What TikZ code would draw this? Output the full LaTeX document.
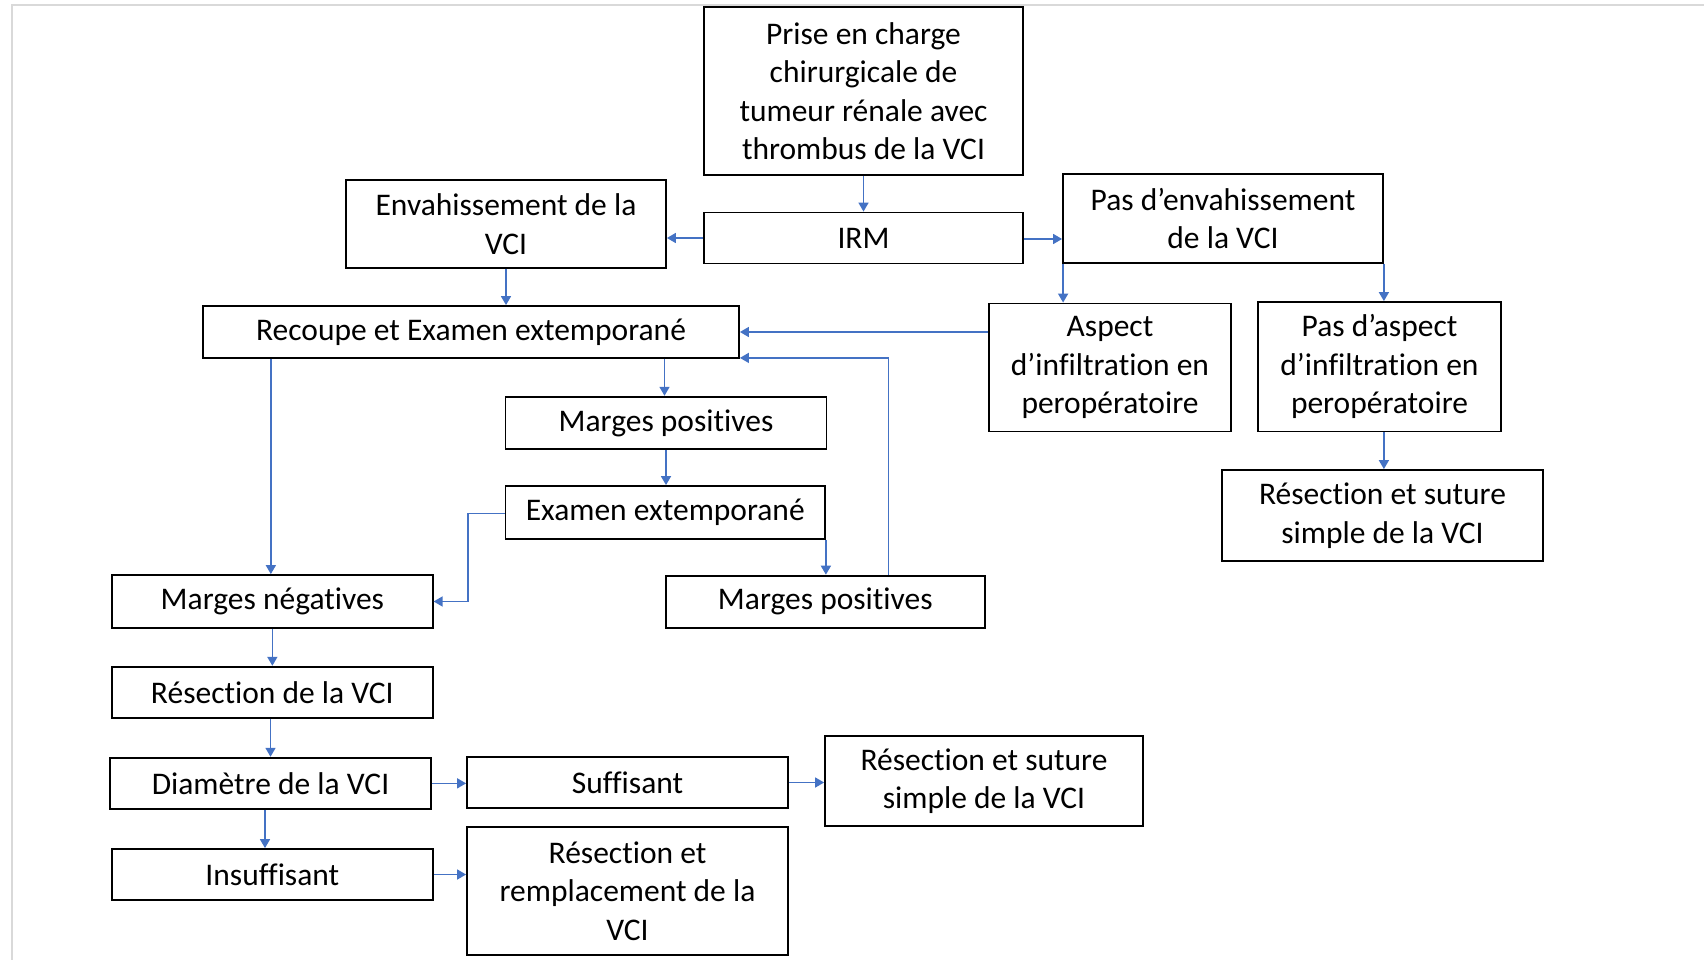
\documentclass[tikz,border=0pt]{standalone}
\usepackage{fontspec}
\setmainfont[Ligatures=NoCommon]{Carlito}
\usetikzlibrary{arrows.meta,calc}
\definecolor{arrowblue}{HTML}{4472C4}
\definecolor{framegray}{HTML}{D9D9D9}
\begin{document}
\begin{tikzpicture}[x=1pt,y=-1pt,
  box/.style={draw=black,line width=1.8pt,inner sep=0pt,align=center,
    font=\fontsize{31.5}{38.4}\selectfont},
  arr/.style={draw=arrowblue,line width=1.6pt,-{Triangle[length=9pt,width=10pt]}}]
\useasboundingbox (0,0) rectangle (1704,960);
\draw[framegray,line width=2pt] (12,960) -- (12,5) -- (1704,5);

\node[box,minimum width=319pt,minimum height=168pt] (prise) at (863.5,91) {Prise en charge\\chirurgicale de\\tumeur rénale avec\\thrombus de la VCI};
\node[box,minimum width=320pt,minimum height=88pt] (env) at (506,224) {Envahissement de la\\VCI};
\node[box,minimum width=319pt,minimum height=51pt] (irm) at (863.5,238) {IRM};
\node[box,minimum width=320pt,minimum height=89pt] (pasenv) at (1223,218.5) {Pas d’envahissement\\de la VCI};
\node[box,minimum width=536pt,minimum height=52pt] (recoupe) at (471,332) {Recoupe et Examen extemporané};
\node[box,minimum width=242pt,minimum height=128pt] (aspect) at (1110,367.5) {Aspect\\d’infiltration en\\peropératoire};
\node[box,minimum width=243pt,minimum height=129.5pt] (pasasp) at (1379.5,366.75) {Pas d’aspect\\d’infiltration en\\peropératoire};
\node[box,minimum width=321pt,minimum height=91pt] (resR) at (1382.5,515.5) {Résection et suture\\simple de la VCI};
\node[box,minimum width=321pt,minimum height=52.6pt] (mp1) at (666,423) {Marges positives};
\node[box,minimum width=319.5pt,minimum height=53pt] (exam) at (665.25,512.5) {Examen extemporané};
\node[box,minimum width=320.7pt,minimum height=53pt] (mneg) at (272.35,601.5) {Marges négatives};
\node[box,minimum width=319.3pt,minimum height=52pt] (mp2) at (825.3,601.6) {Marges positives};
\node[box,minimum width=320.7pt,minimum height=51pt] (resvci) at (272.35,692.2) {Résection de la VCI};
\node[box,minimum width=321pt,minimum height=51.3pt] (diam) at (270.5,783.35) {Diamètre de la VCI};
\node[box,minimum width=321pt,minimum height=51pt] (suff) at (627.5,782.5) {Suffisant};
\node[box,minimum width=318pt,minimum height=90pt] (resB) at (984,781) {Résection et suture\\simple de la VCI};
\node[box,minimum width=320.7pt,minimum height=51pt] (insuf) at (272.35,874.5) {Insuffisant};
\node[box,minimum width=321pt,minimum height=128pt] (remp) at (627.5,891) {Résection et\\remplacement de la\\VCI};

\draw[arr] (prise.south) -- (irm.north);
\draw[arr] (irm.west) -- (irm.west -| env.east);
\draw[arr] ([yshift=-1pt]irm.east) -- ([yshift=-1pt]irm.east -| pasenv.west);
\draw[arr] (env.south) -- (env.south |- recoupe.north);
\draw[arr] ([xshift=1pt]pasenv.south west) -- ([xshift=1pt]pasenv.south west |- aspect.north);
\draw[arr] (pasenv.south east) -- (pasenv.south east |- pasasp.north);
\draw[arr] (pasenv.south east |- pasasp.south) -- (pasenv.south east |- resR.north);
\draw[arr] (aspect.west |- recoupe.east) -- (recoupe.east);
\draw[arr] ([xshift=-1.5pt]mp1.north |- recoupe.south) -- ([xshift=-1.5pt]mp1.north);
\draw[arr] (mp1.south) -- (mp1.south |- exam.north);
\draw[arr] (exam.south east) -- (exam.south east |- mp2.north);
\draw[arr] ([xshift=63pt]mp2.north) |- ([yshift=1pt]recoupe.south east);
\draw[arr] ([yshift=-0.8pt]exam.west) -- ++(-36.5,0) |- (mneg.east);
\draw[arr] ([xshift=-1.5pt]mneg.north |- recoupe.south) -- ([xshift=-1.5pt]mneg.north);
\draw[arr] (mneg.south) -- (mneg.south |- resvci.north);
\draw[arr] (diam.north |- resvci.south) -- (diam.north);
\draw[arr] ([xshift=-5.5pt]diam.south) -- ([xshift=-5.5pt]diam.south |- insuf.north);
\draw[arr] (diam.east) -- (diam.east -| suff.west);
\draw[arr] (insuf.east) -- (insuf.east -| remp.west);
\draw[arr] (suff.east) -- (suff.east -| resB.west);
\end{tikzpicture}
\end{document}
